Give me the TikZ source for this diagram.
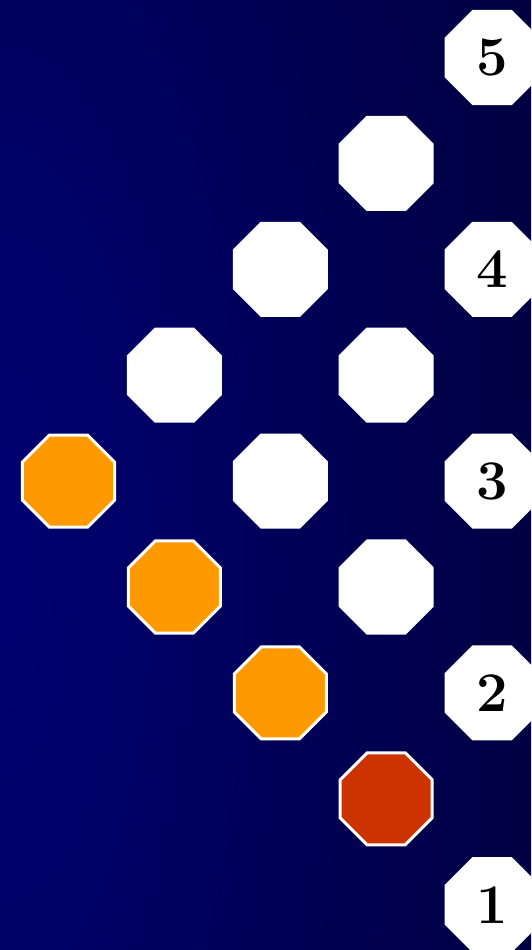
\documentclass[tikz,border=0pt]{standalone}
\usetikzlibrary{shapes.geometric}
\definecolor{bgin}{RGB}{0,0,114}
\definecolor{bgout}{RGB}{0,0,16}
\definecolor{orangecell}{RGB}{255,153,0}
\definecolor{redcell}{RGB}{204,51,0}
\pgfdeclareradialshading{bgrad}{\pgfpoint{0bp}{0bp}}{%
  color(0bp)=(bgin); color(20bp)=(bgout); color(50bp)=(bgout)}
\tikzset{
  oct/.style={regular polygon, regular polygon sides=8, minimum size=99.6pt,
    inner sep=0pt, outer sep=0pt, draw=white, line width=3pt, fill=white,
    font=\fontsize{56}{60}\selectfont\bfseries},
  orangeoct/.style={oct, fill=orangecell},
  redoct/.style={oct, fill=redcell}
}
\begin{document}
\begin{tikzpicture}[x=1pt,y=-1pt]
\useasboundingbox (0,0) rectangle (531,950);
\begin{scope}
\clip (0,0) rectangle (531,950);
\fill[bgout] (0,0) rectangle (531,950);
\shade[shading=bgrad] (0,570) ellipse [x radius=1400, y radius=3900];
\end{scope}
\def\cx#1{68.5+105.9*#1}
\def\cy#1{57.5+105.9*#1}
\node[oct] (n5) at ({\cx{4}},{\cy{0}}) {5};
\node[oct] (w31) at ({\cx{3}},{\cy{1}}) {};
\node[oct] (w22) at ({\cx{2}},{\cy{2}}) {};
\node[oct] (n4) at ({\cx{4}},{\cy{2}}) {4};
\node[oct] (w13) at ({\cx{1}},{\cy{3}}) {};
\node[oct] (w33) at ({\cx{3}},{\cy{3}}) {};
\node[orangeoct] (o04) at ({\cx{0}},{\cy{4}}) {};
\node[oct] (w24) at ({\cx{2}},{\cy{4}}) {};
\node[oct] (n3) at ({\cx{4}},{\cy{4}}) {3};
\node[orangeoct] (o15) at ({\cx{1}},{\cy{5}}) {};
\node[oct] (w35) at ({\cx{3}},{\cy{5}}) {};
\node[orangeoct] (o26) at ({\cx{2}},{\cy{6}}) {};
\node[oct] (n2) at ({\cx{4}},{\cy{6}}) {2};
\node[redoct] (r37) at ({\cx{3}},{\cy{7}}) {};
\node[oct] (n1) at ({\cx{4}},{\cy{8}}) {1};
\end{tikzpicture}
\end{document}
